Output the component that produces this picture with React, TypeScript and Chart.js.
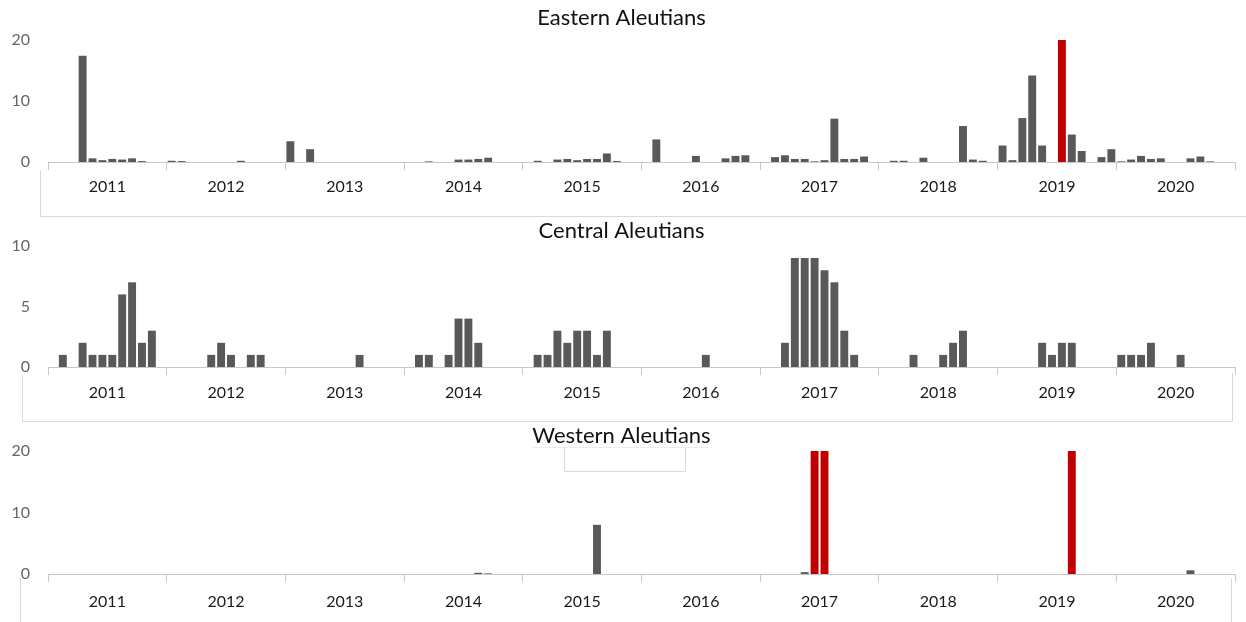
import React, { useEffect, useRef } from 'react';
import { Chart, registerables } from 'chart.js';

Chart.register(...registerables);

const YEARS = ['2011', '2012', '2013', '2014', '2015', '2016', '2017', '2018', '2019', '2020'];
const MONTH_NAMES = ['Jan', 'Feb', 'Mar', 'Apr', 'May', 'Jun', 'Jul', 'Aug', 'Sep', 'Oct', 'Nov', 'Dec'];
const MONTHS = YEARS.flatMap((y) => MONTH_NAMES.map((m) => `${m} ${y}`));

// Eastern Aleutians, monthly values 2011-2020
const EASTERN = [
  0, 0, 0, 17.4, 0.6, 0.3, 0.5, 0.4, 0.6, 0.15, 0, 0,
  0.2, 0.15, 0, 0, 0, 0, 0, 0.2, 0, 0, 0, 0,
  3.4, 0, 2.1, 0, 0, 0, 0, 0, 0, 0, 0, 0,
  0, 0, 0.1, 0, 0, 0.4, 0.4, 0.5, 0.7, 0, 0, 0,
  0, 0.2, 0, 0.4, 0.5, 0.3, 0.5, 0.5, 1.4, 0.15, 0, 0,
  0, 3.7, 0, 0, 0, 1.0, 0, 0, 0.6, 1.0, 1.1, 0,
  0, 0.8, 1.1, 0.5, 0.5, 0.1, 0.3, 7.1, 0.5, 0.5, 0.9, 0,
  0, 0.2, 0.2, 0, 0.7, 0, 0, 0, 5.9, 0.4, 0.2, 0,
  2.7, 0.3, 7.2, 14.2, 2.7, 0, 20, 4.5, 1.8, 0, 0.8, 2.1,
  0.1, 0.4, 1.0, 0.5, 0.6, 0, 0, 0.6, 0.9, 0.1, 0, 0,
];
const EASTERN_RED = [102];

// Central Aleutians
const CENTRAL = [
  0, 1, 0, 2, 1, 1, 1, 6, 7, 2, 3, 0,
  0, 0, 0, 0, 1, 2, 1, 0, 1, 1, 0, 0,
  0, 0, 0, 0, 0, 0, 0, 1, 0, 0, 0, 0,
  0, 1, 1, 0, 1, 4, 4, 2, 0, 0, 0, 0,
  0, 1, 1, 3, 2, 3, 3, 1, 3, 0, 0, 0,
  0, 0, 0, 0, 0, 0, 1, 0, 0, 0, 0, 0,
  0, 0, 2, 9, 9, 9, 8, 7, 3, 1, 0, 0,
  0, 0, 0, 1, 0, 0, 1, 2, 3, 0, 0, 0,
  0, 0, 0, 0, 2, 1, 2, 2, 0, 0, 0, 0,
  1, 1, 1, 2, 0, 0, 1, 0, 0, 0, 0, 0,
];
const CENTRAL_RED: number[] = [];

// Western Aleutians
const WESTERN = [
  0, 0, 0, 0, 0, 0, 0, 0, 0, 0, 0, 0,
  0, 0, 0, 0, 0, 0, 0, 0, 0, 0, 0, 0,
  0, 0, 0, 0, 0, 0, 0, 0, 0, 0, 0, 0,
  0, 0, 0, 0, 0, 0, 0, 0.2, 0.1, 0, 0, 0,
  0, 0, 0, 0, 0, 0, 0, 8.0, 0, 0, 0, 0,
  0, 0, 0, 0, 0, 0, 0, 0, 0, 0, 0, 0,
  0, 0, 0, 0, 0.3, 20, 20, 0, 0, 0, 0, 0,
  0, 0, 0, 0, 0, 0, 0, 0, 0, 0, 0, 0,
  0, 0, 0, 0, 0, 0, 0, 20, 0, 0, 0, 0,
  0, 0, 0, 0, 0, 0, 0, 0.6, 0, 0, 0, 0,
];
const WESTERN_RED = [77, 78, 103];

const DARK = '#595959';
const RED = '#c00000';
const FONT = 'Lato, "Open Sans", sans-serif';

type Line = [number, number, number, number, string];

interface PanelProps {
  title: string;
  values: number[];
  red: number[];
  max: number;
  step: number;
  top: number;
  height: number;
  titlePad: { top: number; bottom: number };
  axisHeight: number;
  labelPad: number;
  lines: Line[];
}

function Panel(p: PanelProps) {
  const ref = useRef<HTMLCanvasElement>(null);
  useEffect(() => {
    if (!ref.current) return;
    const decor = {
      id: 'decor',
      afterDraw(chart: any) {
        const ctx = chart.ctx;
        ctx.save();
        ctx.lineWidth = 1;
        p.lines.forEach(([x1, y1, x2, y2, c]) => {
          ctx.strokeStyle = c;
          ctx.beginPath();
          ctx.moveTo(x1, y1);
          ctx.lineTo(x2, y2);
          ctx.stroke();
        });
        ctx.restore();
      },
    };
    const chart = new Chart(ref.current, {
      type: 'bar',
      data: {
        labels: MONTHS,
        datasets: [
          {
            data: p.values,
            backgroundColor: p.values.map((_, i) => (p.red.includes(i) ? RED : DARK)),
            barPercentage: 0.8,
            categoryPercentage: 1,
            xAxisID: 'x',
            yAxisID: 'y',
          },
        ],
      },
      options: {
        responsive: false,
        animation: false,
        devicePixelRatio: 1,
        layout: { padding: { left: 8, right: 11, top: 0, bottom: 0 } },
        plugins: {
          legend: { display: false },
          tooltip: { enabled: false },
          title: {
            display: true,
            text: p.title,
            color: '#111111',
            font: { family: FONT, size: 22, weight: 'normal', lineHeight: 1.2 },
            padding: p.titlePad,
          },
        },
        scales: {
          x: { type: 'category', display: false, offset: true },
          years: {
            type: 'category',
            axis: 'x',
            labels: YEARS,
            position: 'bottom',
            offset: true,
            grid: { offset: true, drawOnChartArea: false, drawTicks: true, tickLength: 8, color: '#c8c8c8' },
            border: { display: true, color: '#c8c8c8' },
            ticks: {
              color: '#1a1a1a',
              font: { family: FONT, size: 16 },
              padding: p.labelPad,
              maxRotation: 0,
              autoSkip: false,
            },
            afterFit: (s: any) => {
              s.height = p.axisHeight;
            },
          },
          y: {
            min: 0,
            max: p.max,
            ticks: { stepSize: p.step, color: '#666666', font: { family: FONT, size: 16 }, padding: 18 },
            grid: { display: false, drawTicks: false },
            border: { display: false },
            afterFit: (s: any) => {
              s.width = 40;
            },
          },
        },
      } as any,
      plugins: [decor],
    });
    return () => chart.destroy();
  }, []);
  return (
    <canvas
      ref={ref}
      width={1246}
      height={p.height}
      style={{ position: 'absolute', left: 0, top: p.top, display: 'block' }}
    />
  );
}

const BOX = '#d9d9d9';

export default function App() {
  return (
    <div style={{ position: 'absolute', left: 0, top: 0, width: 1246, height: 622, background: '#fff' }}>
      <Panel
        title="Eastern Aleutians"
        values={EASTERN}
        red={EASTERN_RED}
        max={20}
        step={10}
        top={0}
        height={218}
        titlePad={{ top: 5, bottom: 8.6 }}
        axisHeight={56}
        labelPad={7}
        lines={[
          [40.5, 170, 40.5, 216.5, BOX],
          [40, 216.5, 1246, 216.5, BOX],
        ]}
      />
      <Panel
        title="Central Aleutians"
        values={CENTRAL}
        red={CENTRAL_RED}
        max={10}
        step={5}
        top={218}
        height={204}
        titlePad={{ top: 0, bottom: 1.6 }}
        axisHeight={55}
        labelPad={8}
        lines={[
          [22.5, 157, 22.5, 203.5, BOX],
          [22, 203.5, 1233, 203.5, BOX],
          [1232.5, 155, 1232.5, 203.5, BOX],
        ]}
      />
      <Panel
        title="Western Aleutians"
        values={WESTERN}
        red={WESTERN_RED}
        max={20}
        step={10}
        top={422}
        height={200}
        titlePad={{ top: 0.5, bottom: 2.1 }}
        axisHeight={48}
        labelPad={10}
        lines={[
          [20.5, 156, 20.5, 200, BOX],
          [1231.5, 156, 1231.5, 200, BOX],
          [533, 25.5, 708, 25.5, '#ececec'],
          [564.5, 25.5, 564.5, 49.5, BOX],
          [564.5, 49.5, 685.5, 49.5, BOX],
          [685.5, 25.5, 685.5, 49.5, BOX],
        ]}
      />
    </div>
  );
}
